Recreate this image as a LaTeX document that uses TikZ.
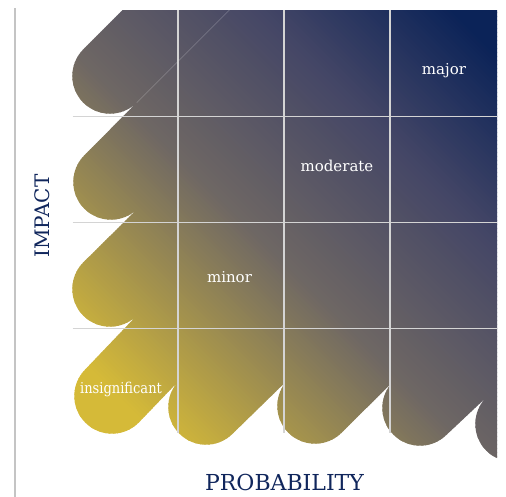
\documentclass[tikz,border=0pt]{standalone}
\usepackage{fontspec}
\usetikzlibrary{calc}
\setmainfont{DejaVu Serif}
\definecolor{ylw}{RGB}{213,186,56}
\definecolor{gry}{RGB}{110,103,100}
\definecolor{slt}{RGB}{68,70,102}
\definecolor{nvy}{RGB}{11,35,88}
\definecolor{axisnavy}{RGB}{16,38,92}
\definecolor{rulegray}{RGB}{196,196,196}
\definecolor{gridgray}{RGB}{212,212,212}
\begin{document}
\begin{tikzpicture}[x=1pt,y=-1pt,
  gridline/.style={draw=gridgray,line width=1.3pt},
  celllabel/.style={text=white,font=\fontsize{15}{18}\selectfont,anchor=base,inner sep=0pt},
  axislabel/.style={text=axisnavy,font=\fontsize{22}{26}\selectfont,anchor=base,inner sep=0pt}]
\useasboundingbox (0,0) rectangle (506,497);
\def\rad{37.7}
% diagonal bands with rounded ends, filled with one gradient
\begin{scope}
  \clip (72,10.5) rectangle (497,480);
  % outline of the union of all bands
  \clip ($(110,76)+(225:\rad)+(-45:700)$)
    \foreach \cx/\cy in {110/76,111/182,110/289,112/396,206/407,315/406,420/408,513/424}{
      -- ($(\cx,\cy)+(225:\rad)$) arc[start angle=225,end angle=45,radius=\rad]}
    -- ++(-45:700) -- cycle;
  % gradient across the diagonal: yellow, warm grey, slate, navy
  \foreach \i in {0,...,231}{
    \pgfmathsetmacro\sa{-420+4*\i}
    \pgfmathsetmacro\sb{\sa+5}
    \pgfmathsetmacro\pa{min(100,max(0,(\sa+280)/3.0))}
    \pgfmathsetmacro\pb{min(100,max(0,(\sa-20)/2.3))}
    \pgfmathsetmacro\pc{min(100,max(0,(\sa-250)/1.9))}
    \ifdim\sa pt<20pt \colorlet{band}{gry!\pa!ylw}\else
      \ifdim\sa pt<250pt \colorlet{band}{slt!\pb!gry}\else\colorlet{band}{nvy!\pc!slt}\fi\fi
    \fill[band] ({\sa/2},{-\sa/2}) -- ({(1000+\sa)/2},{(1000-\sa)/2})
      -- ({(1000+\sb)/2},{(1000-\sb)/2}) -- ({\sb/2},{-\sb/2}) -- cycle;
  }
  % faint seam between the two upper bands
  \draw[white,opacity=0.2,line width=0.6pt] (136.7,102.7) -- ++(-45:140);
\end{scope}
% grid
\foreach \x in {178,284,390} \draw[gridline] (\x,10.5) -- (\x,433);
\foreach \y in {116.5,222.5,328.5} \draw[gridline] (72.5,\y) -- (497,\y);
% left rule
\draw[rulegray,line width=2pt] (15,8.5) -- (15,497);
% labels
\node[celllabel] (major) at (444,75) {major};
\node[celllabel] (moderate) at (337,172) {moderate};
\node[celllabel] (minor) at (229.5,282) {minor};
\node[celllabel,xscale=0.87,transform shape] (insignificant) at (121,393) {insignificant};
\node[axislabel] (probability) at (284.5,490) {PROBABILITY};
\node[axislabel,font=\fontsize{20}{24}\selectfont,rotate=90] (impact) at (49,216) {IMPACT};
\end{tikzpicture}
\end{document}
